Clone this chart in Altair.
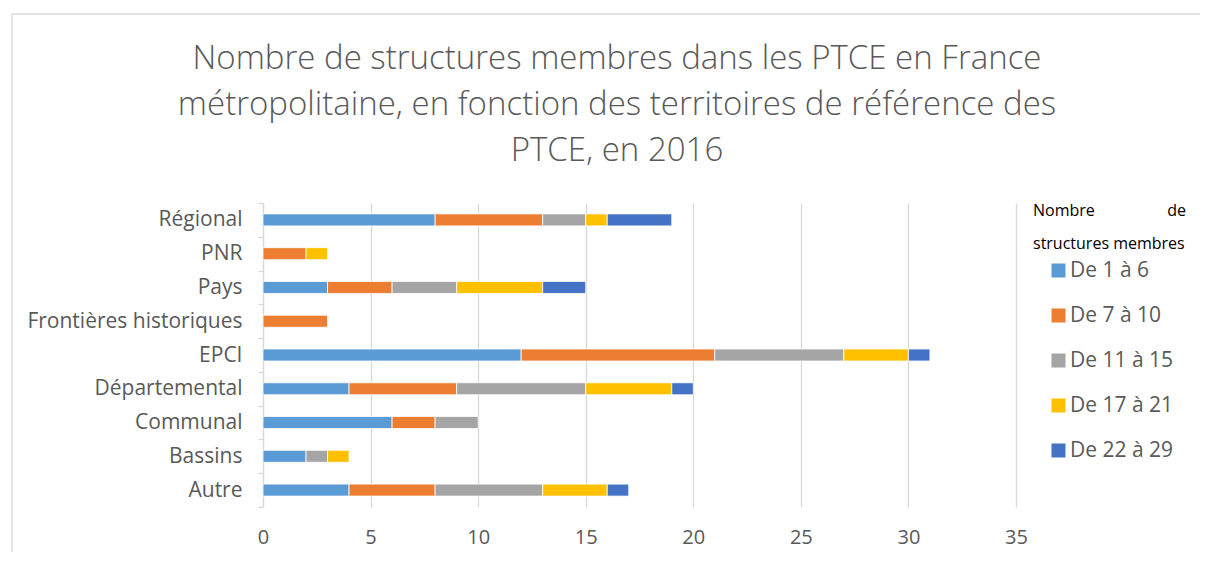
import altair as alt
import pandas as pd

categories = ["Régional", "PNR", "Pays", "Frontières historiques", "EPCI",
              "Départemental", "Communal", "Bassins", "Autre"]
series = ["De 1 à 6", "De 7 à 10", "De 11 à 15", "De 17 à 21", "De 22 à 29"]
s_1_6 = [8, 0, 3, 0, 12, 4, 6, 2, 4]
s_7_10 = [5, 2, 3, 3, 9, 5, 2, 0, 4]
s_11_15 = [2, 0, 3, 0, 6, 6, 2, 1, 5]
s_17_21 = [1, 1, 4, 0, 3, 4, 0, 1, 3]
s_22_29 = [3, 0, 2, 0, 1, 1, 0, 0, 1]
colors = ["#5b9bd5", "#ed7d31", "#a5a5a5", "#ffc000", "#4472c4"]
x_ticks = [0, 5, 10, 15, 20, 25, 30, 35]
title_lines = ["Nombre de structures membres dans les PTCE en France",
               "métropolitaine, en fonction des territoires de référence des",
               "PTCE, en 2016"]

rows = []
for si, (name, vals) in enumerate(zip(series, [s_1_6, s_7_10, s_11_15, s_17_21, s_22_29])):
    for cat, v in zip(categories, vals):
        if v > 0:
            rows.append({"cat": cat, "series": name, "idx": si, "value": v})
df = pd.DataFrame(rows)

FONT = "Open Sans"
GREY = "#595959"
LINE = "#d9d9d9"

bars = alt.Chart(df).mark_bar(size=12, stroke="white", strokeWidth=0.8).encode(
    x=alt.X("value:Q", stack="zero",
            scale=alt.Scale(domain=[0, 35], nice=False),
            axis=alt.Axis(values=x_ticks, title=None, grid=True, gridColor=LINE,
                          gridWidth=1.3, domain=False, ticks=False, labelFontSize=20,
                          labelColor=GREY, labelPadding=20, labelFont=FONT,
                          labelFlush=False)),
    y=alt.Y("cat:N", sort=categories,
            scale=alt.Scale(paddingInner=0, paddingOuter=0),
            axis=alt.Axis(title=None, tickBand="extent", domainColor=LINE,
                          domainWidth=1.3, tickColor=LINE, tickWidth=1.3, tickSize=5,
                          labelFontSize=21, labelColor=GREY, labelPadding=16,
                          labelFont=FONT, labelLimit=400)),
    color=alt.Color("series:N", scale=alt.Scale(domain=series, range=colors),
                    legend=alt.Legend(title=None, orient="none", legendX=785, legendY=57,
                                      symbolType="square", symbolSize=196,
                                      symbolStrokeWidth=0, labelFontSize=21,
                                      labelColor=GREY, labelFont=FONT, rowPadding=23,
                                      labelOffset=1)),
    order=alt.Order("idx:Q"),
)

one = pd.DataFrame({"t": [0]})
lt1 = alt.Chart(one).mark_text(align="left", baseline="middle", fontSize=16, font=FONT,
                               color="black").encode(
    x=alt.value(770), y=alt.value(8), text=alt.value("Nombre"))
lt2 = alt.Chart(one).mark_text(align="right", baseline="middle", fontSize=16, font=FONT,
                               color="black").encode(
    x=alt.value(923), y=alt.value(8), text=alt.value("de"))
lt3 = alt.Chart(one).mark_text(align="left", baseline="middle", fontSize=16, font=FONT,
                               color="black").encode(
    x=alt.value(770), y=alt.value(41), text=alt.value("structures membres"))
title = alt.Chart(one).mark_text(align="center", baseline="top", fontSize=33, font=FONT,
                                 fontWeight=300, color=GREY, lineHeight=46).encode(
    x=alt.value(354), y=alt.value(-160), text=alt.value(title_lines))
border_top = alt.Chart(one).mark_rule(color=LINE, strokeWidth=1.3).encode(
    x=alt.value(-251), x2=alt.value(937), y=alt.value(-189))
border_left = alt.Chart(one).mark_rule(color=LINE, strokeWidth=1.3).encode(
    x=alt.value(-251), y=alt.value(-189), y2=alt.value(360))

chart = alt.layer(border_top, border_left, bars, lt1, lt2, lt3, title).properties(
    width=753, height=304,
    autosize=alt.AutoSizeParams(type="none"),
    padding={"left": 255, "top": 195, "right": 185, "bottom": 45},
).configure_view(stroke=None)

chart.save("out.html", embed_options={"renderer": "svg", "actions": False})
